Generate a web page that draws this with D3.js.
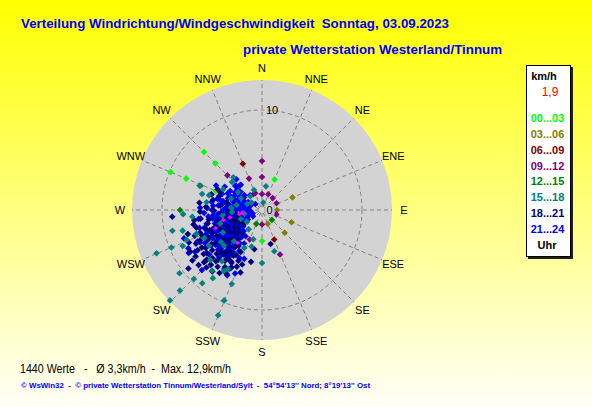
<!DOCTYPE html>
<html>
<head>
<meta charset="utf-8">
<script src="https://cdn.jsdelivr.net/npm/d3@7"></script>
<style>
  body { margin: 0; padding: 0; }
  svg { display: block; }
  text { font-family: "Liberation Sans", Arial, sans-serif; white-space: pre; }
</style>
</head>
<body>
<div id="content"></div>
<script>
// compass labels, clockwise from north
var dirLabels = ["N","NNE","NE","ENE","E","ESE","SE","SSE","S","SSW","SW","WSW","W","WNW","NW","NNW"];

// legend: time bins and their colours
var binLabels = ["00...03","03...06","06...09","09...12","12...15","15...18","18...21","21...24"];
var binColors = ["#00ff00","#808000","#800000","#800080","#008000","#008080","#000080","#0000ff"];

var currentSpeed = "1,9";
var ringValues = [10];
var maxScale = 13;

// points per time bin: [direction in degrees, speed in km/h]
var h00 = [[315,8.2],[315,6.6],[292.5,9.9],[292.5,8.2],[22.5,3.3],[292.5,5.0],[180,3.1]];
var h03 = [[67.5,3.3],[90,1.5],[112.5,3.2],[135,3.2],[157.5,1.5]];
var h06 = [[337.5,5.0],[157.5,3.2]];
var h09 = [[0,4.9],[0,3.3],[315,4.9],[337.5,3.4],[338,1.8],[0,1.6],[21.5,1.7],[42,1.6],[65,1.6],
           [292.5,1.5],[107,1.5],[180,1.45],[202.5,3.2],[157.9,4.8],[292.5,3.4],[331.5,1.8]];
var h12 = [[315,3.3],[270,8.2],[291.6,6.6],[135,1.4],[202.5,1.5]];
var h15 = [[247.7,11.4],[247.5,9.8],[225.5,12.9],[225.5,11.5],[232.5,10.4],[224.6,9.7],[219.2,9.45],
           [219.5,7.85],[215.8,8.4],[202.6,11.4],[202.7,9.8],[202.2,8.0],[180,5.3],[163.3,4.3],
           [257,9.2],[255.4,8.2],[245.6,8.7],[248.4,8.1],[264.5,7.0],[267,7.9],[318.7,4.35],
           [291.3,6.7],[285.6,5.5],[10,0.75],[214.6,2.35],[196.5,3.05],[298,4.4],[338,2.15],[9.5,2.4],
           [240,4.5],[232,5.2],[252,4.4],[236,6.4],[218,6.5],[244,6.4],
           [262,4.0],[274,3.1],[281,2.6],[290,3.3],[299,2.4],[307,3.0],[313,4.1],
           [222,4.2],[210,6.8],[226,7.2],[250,7.0],[247,2.3],
           [233,1.9],[258,1.8],[266,3.0],[278,5.6],[285,6.2],[227,5.2],
           [212,7.2],[205,4.2],[196,3.8],[292,1.6],[305,1.3],[320,1.8]];
var h18 = [[265.7,9.0],[231.5,9.4],[199,6.6],[192,5.3],[287.3,5.3],[292.7,4.5],[268.4,6.2],[273.4,5.6],
           [261.3,6.85],[235,8.1],[276.6,6.3],[281.5,5.0],[165.8,3.5],[191,4.0],[228,7.4],[222,6.9],
           [250,5.0],[245,5.5],[240,5.2],[235,5.7],[230,5.3],[225,5.8],[220,5.5],[215,5.9],[252,6.0],
           [247,6.5],[241,6.2],[236,6.8],[231,6.4],[226,6.9],[221,6.6],[216,6.3],[211,6.0],[255,6.8],
           [249,7.2],[243,7.4],[238,7.6],[233,7.3],[228,7.8],[223,7.5],[218,7.2],[213,6.8],[208,6.5],
           [246,4.6],[240,4.3],[234,4.8],[228,4.5],[222,4.9],[216,4.6],[210,5.2],[205,5.6],[237,3.9],
           [231,3.6],[225,4.0],[219,3.8],[213,4.3],[207,4.7],[244,3.8],[250,4.2],[256,4.6],[260,5.4],
           [262,6.2],[258,7.0],[252,7.8],[246,8.0],[240,8.3],[234,8.6],[229,8.4],[224,8.0],[219,7.9],
           [214,7.6],[209,7.3],[204,6.2],[200,5.8],[258,3.6],[252,3.2],[245,3.0],[238,3.3],[232,3.0],
           [226,3.4],[220,3.1],[265,4.2],[270,5.0],[268,3.4],[276,4.2],[282,3.6],[288,4.5],[295,4.9],
           [262,2.8],[254,2.5],[248,2.8],[241,2.6],[234,2.4],[229,5.1],[236,6.1],[243,6.0],[249,5.6],
           [221,5.9],[226,6.3],[232,7.0],[238,7.1],[244,6.9],[250,6.6],[256,5.6],[212,5.4],[217,5.2],
           [227,4.4],[233,4.9]];
var h21 = [[300,1.6],[290,1.9],[282,2.3],[275,1.8],[268,2.1],[262,1.5],[255,1.9],[248,1.4],[243,2.2],
           [236,1.7],[295,2.6],[286,3.0],[278,2.8],[271,3.2],[264,2.7],[257,3.1],[250,2.6],[244,3.0],
           [238,2.7],[231,2.4],[305,2.2],[298,3.1],[289,3.6],[281,3.9],[274,3.6],[266,4.0],[259,3.8],
           [252,3.5],[246,4.0],[240,3.6],[233,3.3],[227,3.0],[221,2.8],[292,4.3],[284,4.6],[276,4.4],
           [269,4.8],[261,4.5],[254,4.9],[247,4.6],[241,4.4],[235,4.1],[229,3.9],[223,3.6],[217,3.4],
           [212,3.1],[287,5.3],[279,5.1],[272,5.5],[263,5.4],[256,5.7],[249,5.3],[243,5.6],[237,5.0],
           [231,4.8],[225,4.6],[219,4.3],[214,4.0],[208,3.8],[272,6.2],[262,6.4],[254,6.5],[246,6.2],
           [240,6.6],[233,5.8],[227,5.5],[221,5.3],[215,5.1],[209,4.7],[230,6.9],[222,6.4],[216,6.0],
           [244,7.2],[250,8.3],[238,7.9],[228,7.6],[210,6.1],[205,5.3],[203,6.9],[208,7.4],[255,2.3],
           [262,3.4],[270,2.6],[248,2.1],[240,3.1],[233,3.8],[226,4.2],[245,5.1],[258,4.3],[265,4.4],
           [280,3.4],[287,2.0],[296,3.8],[310,2.8],[318,3.3],[320,4.0],[312,3.6],[302,4.4],[298,5.2],
           [253,6.0],[236,5.4],[224,5.0],[218,4.7],[234,4.5],[251,4.1],[260,5.0],[267,5.8],[275,4.9],
           [283,4.0],[239,2.0],[229,2.5],[246,3.4],[257,2.6],[263,2.0],[272,1.5],[284,1.4],[294,1.2],
           [250,1.0],[235,1.1],[225,8.5],[242.5,8.3],[239.6,8.5],[208.7,6.7],[212.6,7.0],[200,5.2],
           [242.5,7.0],[292.5,3.3],[320,3.3],[310,2.3],[313,3.5],[300.7,3.7],[310,3.2],[301,2.6],
           [321,1.9],[312,0.9],[278.7,4.0],[283.4,4.3],
           [258,2.0],[252,1.7],[245,1.8],[240,2.5],[234,2.9],[229,3.4],[224,3.9],[219,4.6],[214,5.4],
           [260,2.9],[253,2.9],[247,2.5],[242,3.4],[236,3.6],[231,4.2],[226,4.8],[221,4.9],[216,5.6],
           [266,3.5],[259,3.4],[253,3.9],[248,3.8],[243,4.1],[237,4.3],[232,4.6],[227,5.0],[222,5.7],
           [270,3.9],[264,4.9],[257,4.7],[251,4.6],[245,4.8],[239,4.9],[234,5.3],[228,5.9],[223,6.0],
           [278,3.3],[276,2.3],[285,2.6],[291,3.0],[268,1.2],[280,1.6],[288,2.5],[296,2.0],[303,3.2],
           [240,5.7],[235,6.2],[248,5.9],[230,5.6],[218,5.8]];
// small pink marks inside the cluster
var pinkPts = [[255.6,4.0],[216.6,4.1],[248.7,5.0],[260,2.3],[257,3.3],[263,1.95]];

var series = [h00, h03, h06, h09, h12, h15, h18, h21];
// drawing order (teal and navy end up above blue in the picture)
var drawOrder = [0, 1, 2, 3, 4, 7, 6, 5];

var width = 592, height = 407;
var cx = 262, cy = 210;

var svg = d3.select("#content")
  .append("svg")
    .attr("width", width)
    .attr("height", height);

// background gradient yellow -> almost white
var defs = svg.append("defs");
var grad = defs.append("linearGradient")
    .attr("id", "bg")
    .attr("x1", 0).attr("y1", 0).attr("x2", 0).attr("y2", 1);
grad.append("stop").attr("offset", "0%").attr("stop-color", "#ffff00");
grad.append("stop").attr("offset", "100%").attr("stop-color", "#fffff8");

svg.append("rect")
    .attr("width", width)
    .attr("height", height)
    .attr("fill", "url(#bg)");

// radial scale
var r = d3.scaleLinear().domain([0, maxScale]).range([0, 130]);
var ang = function(d) { return d * Math.PI / 180; };
var px = function(dir, spd) { return cx + r(spd) * Math.sin(ang(dir)); };
var py = function(dir, spd) { return cy - r(spd) * Math.cos(ang(dir)); };

var g = svg.append("g");

g.append("circle")
    .attr("cx", cx).attr("cy", cy)
    .attr("r", r(maxScale))
    .attr("fill", "#d3d3d3");

// rings
g.selectAll(".ring")
  .data(ringValues)
  .enter()
  .append("circle")
    .attr("cx", cx).attr("cy", cy)
    .attr("r", function(d) { return r(d); })
    .attr("fill", "none")
    .attr("stroke", "#808080")
    .attr("stroke-dasharray", "4,3");

// spokes
g.selectAll(".spoke")
  .data(dirLabels)
  .enter()
  .append("line")
    .attr("x1", function(d, i) { return px(i * 22.5, 0.3); })
    .attr("y1", function(d, i) { return py(i * 22.5, 0.3); })
    .attr("x2", function(d, i) { return px(i * 22.5, maxScale); })
    .attr("y2", function(d, i) { return py(i * 22.5, maxScale); })
    .attr("stroke", "#808080")
    .attr("stroke-dasharray", "4,3");

// compass labels
g.selectAll(".dirlab")
  .data(dirLabels)
  .enter()
  .append("text")
    .attr("x", function(d, i) { return px(i * 22.5, 14.2); })
    .attr("y", function(d, i) { return py(i * 22.5, 14.2); })
    .attr("text-anchor", "middle")
    .attr("dominant-baseline", "central")
    .style("font-size", "11px")
    .attr("fill", "#000")
    .text(function(d) { return d; });

// ring label
g.selectAll(".ringlab")
  .data(ringValues)
  .enter()
  .append("text")
    .attr("x", cx + 4)
    .attr("y", function(d) { return cy - r(d) + 4; })
    .style("font-size", "11px")
    .text(function(d) { return d; });

// points
var diamond = function(s) { return "M0," + (-s) + "L" + s + ",0L0," + s + "L" + (-s) + ",0Z"; };

drawOrder.forEach(function(k) {
  g.append("g").selectAll("path")
    .data(series[k])
    .enter()
    .append("path")
      .attr("d", diamond(3.3))
      .attr("transform", function(d) { return "translate(" + px(d[0], d[1]) + "," + py(d[0], d[1]) + ")"; })
      .attr("fill", binColors[k]);
});

g.append("g").selectAll("path")
  .data(pinkPts)
  .enter()
  .append("path")
    .attr("d", diamond(2.4))
    .attr("transform", function(d) { return "translate(" + px(d[0], d[1]) + "," + py(d[0], d[1]) + ")"; })
    .attr("fill", "#ff00ff");

// zero label with a small box behind it
g.append("rect")
    .attr("x", cx + 3).attr("y", cy - 6)
    .attr("width", 9).attr("height", 11)
    .attr("fill", "#d3d3d3")
    .attr("stroke", "#b0b0b0");
g.append("text")
    .attr("x", cx + 4.5)
    .attr("y", cy + 4)
    .style("font-size", "11px")
    .text("0");

// titles
svg.append("text")
    .attr("x", 21).attr("y", 28)
    .attr("textLength", 428).attr("lengthAdjust", "spacingAndGlyphs")
    .style("font-size", "13px").style("font-weight", "bold")
    .attr("fill", "#0000ff")
    .text("Verteilung Windrichtung/Windgeschwindigkeit  Sonntag, 03.09.2023");

svg.append("text")
    .attr("x", 243).attr("y", 54)
    .attr("textLength", 259).attr("lengthAdjust", "spacingAndGlyphs")
    .style("font-size", "13px").style("font-weight", "bold")
    .attr("fill", "#0000ff")
    .text("private Wetterstation Westerland/Tinnum");

// legend box
var lg = svg.append("g");
lg.append("rect")
    .attr("x", 528).attr("y", 67)
    .attr("width", 45).attr("height", 192)
    .attr("fill", "#202020");
lg.append("rect")
    .attr("x", 526.5).attr("y", 65.5)
    .attr("width", 44).attr("height", 191)
    .attr("fill", "#fff")
    .attr("stroke", "#000");

lg.append("text")
    .attr("x", 544).attr("y", 80)
    .attr("text-anchor", "middle")
    .style("font-size", "11px").style("font-weight", "bold")
    .text("km/h");
lg.append("text")
    .attr("x", 550).attr("y", 96)
    .attr("text-anchor", "middle")
    .style("font-size", "12px")
    .attr("fill", "#ff0000")
    .text(currentSpeed);

lg.selectAll(".bin")
  .data(binLabels)
  .enter()
  .append("text")
    .attr("x", 547.5)
    .attr("y", function(d, i) { return 122 + i * 15.85; })
    .attr("text-anchor", "middle")
    .style("font-size", "11px").style("font-weight", "bold")
    .attr("fill", function(d, i) { return binColors[i]; })
    .text(function(d) { return d; });

lg.append("text")
    .attr("x", 547)
    .attr("y", 249)
    .attr("text-anchor", "middle")
    .style("font-size", "11px").style("font-weight", "bold")
    .text("Uhr");

// footer lines
svg.append("text")
    .attr("x", 20).attr("y", 373)
    .attr("textLength", 211).attr("lengthAdjust", "spacingAndGlyphs")
    .style("font-size", "12px")
    .text("1440 Werte   -   \u00d8 3,3km/h  -  Max. 12,9km/h");

svg.append("text")
    .attr("x", 21).attr("y", 388)
    .attr("textLength", 349).attr("lengthAdjust", "spacingAndGlyphs")
    .style("font-size", "8px").style("font-weight", "bold")
    .attr("fill", "#0000ff")
    .text("\u00a9 WsWin32  -  \u00a9 private Wetterstation Tinnum/Westerland/Sylt  -  54\u00b054'13'' Nord; 8\u00b019'13'' Ost");
</script>
</body>
</html>
